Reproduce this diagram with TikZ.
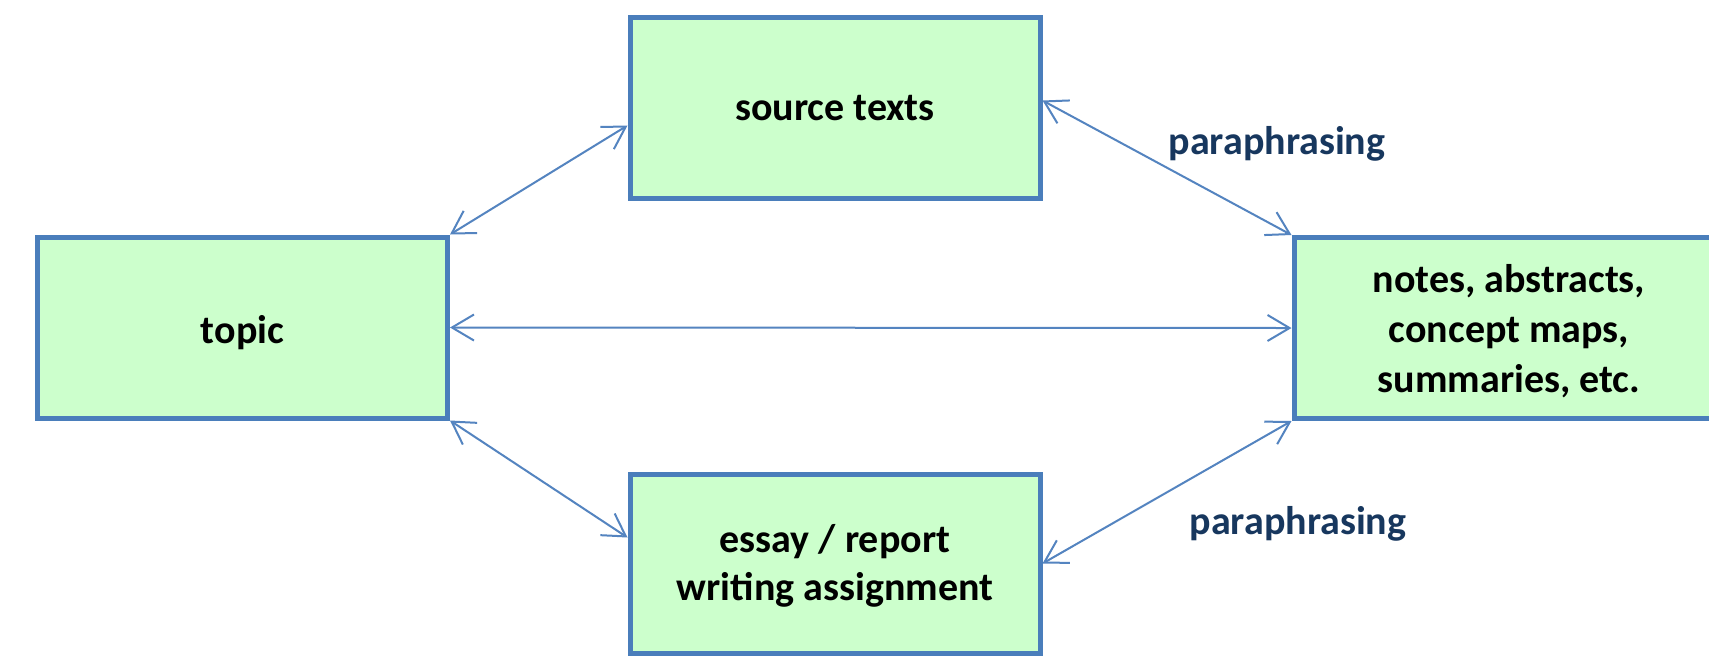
\documentclass[tikz,border=0pt]{standalone}
\usepackage{fontspec}
\setmainfont{Carlito}
\usetikzlibrary{arrows.meta}
\definecolor{boxborder}{RGB}{74,126,187}
\definecolor{boxfill}{RGB}{204,255,204}
\definecolor{arrowblue}{RGB}{84,132,192}
\definecolor{labelblue}{RGB}{23,55,94}
\tikzset{
  box/.style={draw=boxborder, fill=boxfill, line width=2.5pt, inner sep=0pt,
    minimum width=205pt, minimum height=90.5pt, align=center,
    font=\bfseries\fontsize{20}{25}\selectfont},
  link/.style={draw=arrowblue, line width=1pt,
    {Straight Barb[length=11pt,width=13pt]}-{Straight Barb[length=11pt,width=13pt]}},
  lbl/.style={text=labelblue, inner sep=0pt, font=\bfseries\fontsize{20}{24}\selectfont}
}
\begin{document}
\begin{tikzpicture}[x=0.5pt,y=-0.5pt]
\useasboundingbox (0,0) rectangle (1709,671);
\fill[white] (0,0) rectangle (1709,671);
\node[box] (src) at (835,107.5) {\raisebox{-6.25pt}[0pt][0pt]{source texts}};
\node[box] (topic) at (242.5,327.5) {\raisebox{-7.75pt}[0pt][0pt]{topic}};
\node[box, minimum width=215pt] (notes) at (1509,328)
  {\raisebox{18pt}[0pt][0pt]{\parbox[t]{200pt}{\centering notes, abstracts,\\concept maps,\\summaries, etc.}}};
\node[box, minimum height=89.5pt, font=\bfseries\fontsize{20}{24}\selectfont] (essay) at (835,563.5)
  {\raisebox{5.75pt}[0pt][0pt]{\parbox[t]{200pt}{\centering essay / report\\writing assignment}}};
\draw[link] (topic.north east) -- ([yshift=-9pt]src.west);
\draw[link] ([yshift=3.5pt]src.east) -- (notes.north west);
\draw[link] (topic.east) -- (notes.west);
\draw[link] (topic.south east) -- ([yshift=13pt]essay.west);
\draw[link] (essay.east) -- (notes.south west);
\node[lbl] (p1) at (1277,144) {paraphrasing};
\node[lbl] (p2) at (1298,524) {paraphrasing};
\end{tikzpicture}
\end{document}
